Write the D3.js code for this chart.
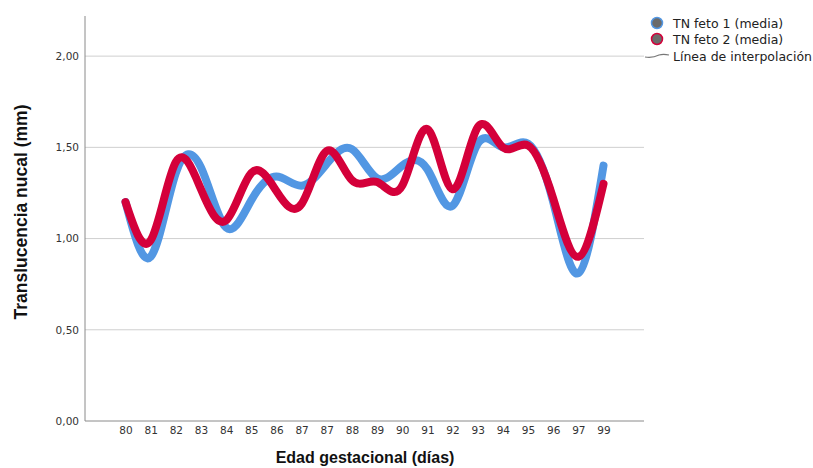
<!DOCTYPE html>
<html>
<head>
<meta charset="utf-8">
<script src="https://cdn.jsdelivr.net/npm/d3@7"></script>
<style>
  html, body { margin: 0; padding: 0; background: #fff; }
  svg { display: block; }
</style>
</head>
<body>
<svg id="chart" width="813" height="468"></svg>
<script>
// Gestational age categories (the "87" label appears twice on the axis)
const ageLabels = ["80","81","82","83","84","85","86","87","87","88","89","90","91","92","93","94","95","96","97","99"];
// Mean nuchal translucency (mm) per category
const fetus1 = [1.20,0.90,1.36,1.39,1.06,1.21,1.34,1.29,1.41,1.49,1.33,1.40,1.38,1.18,1.52,1.50,1.52,1.20,0.81,1.40];
const fetus2 = [1.20,0.99,1.42,1.27,1.10,1.36,1.26,1.19,1.48,1.32,1.31,1.29,1.60,1.27,1.61,1.50,1.51,1.22,0.90,1.30];
const yTicks = [0, 0.5, 1.0, 1.5, 2.0];
const seriesNames = ["TN feto 1 (media)", "TN feto 2 (media)"];

const svg = d3.select("#chart");
const plotLeft = 85, plotRight = 644, plotTop = 16, plotBottom = 421;

const x = d3.scalePoint()
  .domain(d3.range(ageLabels.length))
  .range([plotLeft, plotRight])
  .padding(1.61);

const y = d3.scaleLinear().domain([0, 2.22]).range([plotBottom, plotTop]);

const fmt = v => d3.format(".2f")(v).replace(".", ",");

// horizontal grid lines
svg.append("g")
  .selectAll("line")
  .data(yTicks.filter(d => d > 0))
  .join("line")
  .attr("x1", plotLeft).attr("x2", plotRight)
  .attr("y1", d => y(d)).attr("y2", d => y(d))
  .attr("stroke", "#cfcfcf").attr("stroke-width", 1);

// y axis
const yAxis = svg.append("g")
  .attr("transform", `translate(${plotLeft},0)`)
  .call(d3.axisLeft(y).tickValues(yTicks).tickFormat(fmt).tickSize(0).tickPadding(6));
yAxis.select(".domain").attr("stroke", "#8a8a8a").attr("d", `M0,${plotTop}V${plotBottom}`);
yAxis.selectAll("text")
  .attr("font-family", "'DejaVu Sans', sans-serif")
  .attr("font-size", 10.5).attr("fill", "#333");

// x axis
const xAxis = svg.append("g")
  .attr("transform", `translate(0,${plotBottom})`)
  .call(d3.axisBottom(x).tickFormat(i => ageLabels[i]).tickSize(0).tickPadding(6));
xAxis.select(".domain").attr("stroke", "#8a8a8a").attr("d", `M${plotLeft},0H${plotRight}`);
xAxis.selectAll("text")
  .attr("font-family", "'DejaVu Sans', sans-serif")
  .attr("font-size", 10.5).attr("fill", "#333");

// interpolation lines
const line = d3.line()
  .x((d, i) => x(i))
  .y(d => y(d))
  .curve(d3.curveNatural);

const colors = ["#5297e3", "#d4003a"];
[fetus1, fetus2].forEach((s, k) => {
  svg.append("path")
    .datum(s)
    .attr("d", line)
    .attr("fill", "none")
    .attr("stroke", colors[k])
    .attr("stroke-width", 8)
    .attr("stroke-linecap", "round")
    .attr("stroke-linejoin", "round");
});

// axis titles
svg.append("text")
  .attr("transform", "translate(27,212) rotate(-90)")
  .attr("text-anchor", "middle")
  .attr("font-family", "'Liberation Sans', Arial, sans-serif")
  .attr("font-weight", "bold").attr("font-size", 17.5).attr("fill", "#111")
  .text("Translucencia nucal (mm)");

svg.append("text")
  .attr("x", 365).attr("y", 463)
  .attr("text-anchor", "middle")
  .attr("font-family", "'Liberation Sans', Arial, sans-serif")
  .attr("font-weight", "bold").attr("font-size", 16).attr("fill", "#111")
  .text("Edad gestacional (días)");

// legend
const legend = svg.append("g").attr("font-family", "'DejaVu Sans', sans-serif").attr("font-size", 12.5).attr("fill", "#222");
seriesNames.forEach((name, k) => {
  const ly = 23 + k * 16;
  legend.append("circle")
    .attr("cx", 657).attr("cy", ly).attr("r", 5.5)
    .attr("fill", "#6b6b6b").attr("stroke", colors[k]).attr("stroke-width", 1.5);
  legend.append("text").attr("x", 673).attr("y", ly + 4.5).text(name);
});
legend.append("path")
  .attr("d", "M645,57 C651,58 655,57 659,55 C662,54 665,54 669,55")
  .attr("fill", "none").attr("stroke", "#777").attr("stroke-width", 1.2);
legend.append("text").attr("x", 673).attr("y", 60.5).text("Línea de interpolación");
</script>
</body>
</html>
